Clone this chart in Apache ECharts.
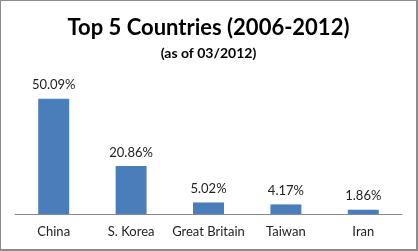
<!DOCTYPE html>
<html><head><meta charset="utf-8">
<script src="https://cdn.jsdelivr.net/npm/echarts@6/dist/echarts.min.js"></script>
<style>html,body{margin:0;padding:0;background:#fff}#c{width:418px;height:251px;box-sizing:border-box;border:1px solid #8c8c8c;border-right-width:2px;border-bottom-width:2px}</style>
</head><body><div id="c"></div>
<script>
const categories = ["China", "S. Korea", "Great Britain", "Taiwan", "Iran"];
const shares = [50.09, 20.86, 5.02, 4.17, 1.86];
const titleText = "Top 5 Countries (2006-2012)";
const subtitleText = "(as of 03/2012)";
const chart = echarts.init(document.getElementById('c'));
const font = 'Lato';
chart.setOption({
  animation: false,
  title: {
    text: titleText, subtext: subtitleText, left: 'center', top: 11, itemGap: 7,
    textStyle: {fontFamily: font, fontSize: 22, fontWeight: 'bold', color: '#000'},
    subtextStyle: {fontFamily: font, fontSize: 14, fontWeight: 'bold', color: '#000'}
  },
  grid: {left: 14, right: 14, top: 75, bottom: 35},
  xAxis: {
    type: 'category', data: categories,
    axisLine: {lineStyle: {color: '#888', width: 1}},
    axisTick: {show: false},
    axisLabel: {interval: 0, fontFamily: font, fontSize: 13, color: '#222', margin: 11}
  },
  yAxis: {type: 'value', min: 0, max: 60, show: false, splitLine: {show: false}},
  series: [{
    type: 'bar', data: shares, barWidth: '40%',
    itemStyle: {color: '#4a7ebb'},
    label: {show: true, position: 'top', distance: 7, fontFamily: font, fontSize: 13, color: '#222',
      formatter: p => p.value.toFixed(2) + '%'}
  }]
});
</script></body></html>
